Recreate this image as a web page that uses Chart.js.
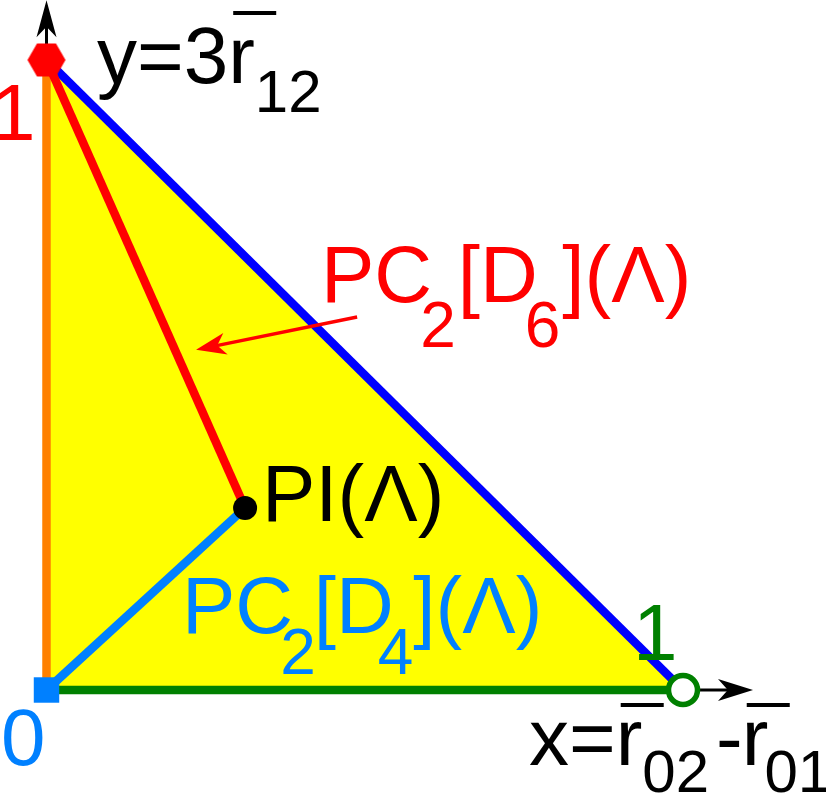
<!DOCTYPE html>
<html>
<head>
<meta charset="utf-8">
<script src="https://cdn.jsdelivr.net/npm/chart.js@4.4.1/dist/chart.umd.min.js"></script>
<style>
  html, body { margin: 0; padding: 0; background: #fff; }
  #wrap { width: 826px; height: 796px; }
</style>
</head>
<body>
<div id="wrap"><canvas id="c" width="826" height="796"></canvas></div>
<script>
// triangle corners: origin, x = 1, y = 1
const cornerX = [0, 1, 0];
const cornerY = [0, 0, 1];
// PI(Λ) point
const piX = 0.312;
const piY = 0.289;
// axis arrow tips, a bit past 1
const axisTipX = 1.11;
const axisTipY = 1.095;
// pointer from the PC2[D6] label to the red line
const pointerX = [0.488, 0.235];
const pointerY = [0.592, 0.540];
// corner tick labels: origin, y = 1, x = 1
const tickLabels = ["0", "1", "1"];

const FONT = '"Liberation Sans", Arial, sans-serif';

// red hexagon for the y = 1 corner
const hex = document.createElement("canvas");
hex.width = 42; hex.height = 38;
(() => {
  const h = hex.getContext("2d");
  h.fillStyle = "#ff0000";
  h.beginPath();
  for (let i = 0; i < 6; i++) {
    const a = Math.PI / 3 * i;
    h.lineTo(21 + 19 * Math.cos(a), 19 + 19 * Math.sin(a));
  }
  h.closePath();
  h.fill();
})();

function arrow(ctx, x1, y1, x2, y2, color, lw, len, half) {
  const a = Math.atan2(y2 - y1, x2 - x1);
  ctx.save();
  ctx.strokeStyle = color;
  ctx.fillStyle = color;
  ctx.lineWidth = lw;
  ctx.beginPath();
  ctx.moveTo(x1, y1);
  ctx.lineTo(x2 - Math.cos(a) * len * 0.7, y2 - Math.sin(a) * len * 0.7);
  ctx.stroke();
  ctx.translate(x2, y2);
  ctx.rotate(a);
  ctx.beginPath();
  ctx.moveTo(0, 0);
  ctx.lineTo(-len, -half);
  ctx.lineTo(-len * 0.72, 0);
  ctx.lineTo(-len, half);
  ctx.closePath();
  ctx.fill();
  ctx.restore();
}

// text with subscripts and overbars
function rich(ctx, x, y, parts, color, size, subSize, subDy, barRise) {
  ctx.save();
  ctx.fillStyle = color;
  ctx.textBaseline = "alphabetic";
  ctx.textAlign = "left";
  let cx = x;
  parts.forEach((p) => {
    cx += p.dx || 0;
    ctx.font = (p.sub ? subSize : size) + "px " + FONT;
    ctx.fillText(p.t, cx, y + (p.sub ? subDy : 0));
    if (p.bar) ctx.fillRect(cx + 5, y - barRise - 2, 43, 4);
    cx += ctx.measureText(p.t).width;
  });
  ctx.restore();
}

const decor = {
  id: "decor",
  beforeDatasetsDraw(chart) {
    const { ctx, scales: { x, y } } = chart;
    const x0 = x.getPixelForValue(0), y0 = y.getPixelForValue(0);
    arrow(ctx, x0, y.getPixelForValue(1) - 14, x0, y.getPixelForValue(axisTipY), "#000", 3, 37, 10);
    arrow(ctx, x.getPixelForValue(1) + 14, y0, x.getPixelForValue(axisTipX), y0, "#000", 3, 35, 11);
  },
  afterDatasetsDraw(chart) {
    const { ctx, scales: { x, y } } = chart;
    arrow(ctx, x.getPixelForValue(pointerX[0]), y.getPixelForValue(pointerY[0]),
      x.getPixelForValue(pointerX[1]), y.getPixelForValue(pointerY[1]), "#ff0000", 3.5, 30, 11);

    ctx.save();
    ctx.font = "80px " + FONT;
    ctx.fillStyle = "#0080ff";
    ctx.fillText(tickLabels[0], 1, 765);
    ctx.fillStyle = "#ff0000";
    ctx.fillText(tickLabels[1], -9, 140);
    ctx.fillStyle = "#008000";
    ctx.fillText(tickLabels[2], 633, 660);
    ctx.fillStyle = "#000";
    ctx.fillText("PI(Λ)", 262, 521);
    ctx.restore();

    rich(ctx, 321, 302, [
      { t: "PC" }, { t: "2", sub: true, dx: -12 }, { t: "[D", dx: 2 },
      { t: "6", sub: true, dx: -13 }, { t: "](Λ)", dx: 2 }
    ], "#ff0000", 80, 64, 45, 0);

    rich(ctx, 182, 633, [
      { t: "PC" }, { t: "2", sub: true, dx: -13 }, { t: "[D", dx: -2 },
      { t: "4", sub: true, dx: -16 }, { t: "](Λ)", dx: 0 }
    ], "#0080ff", 80, 64, 41, 0);

    rich(ctx, 97, 83, [
      { t: "y=3" }, { t: "r", bar: true }, { t: "12", sub: true }
    ], "#000", 80, 60, 29, 70);

    rich(ctx, 529, 765, [
      { t: "x=" }, { t: "r", bar: true }, { t: "02", sub: true },
      { t: "-", dx: 7 }, { t: "r", bar: true, dx: -1 }, { t: "01", sub: true, dx: -4 }
    ], "#000", 80, 60, 27, 60);
  }
};

const seg = (i, j) => [{ x: cornerX[i], y: cornerY[i] }, { x: cornerX[j], y: cornerY[j] }];
const lineDs = (data, color, order) => ({
  data, showLine: true, borderColor: color, borderWidth: 8.5,
  pointRadius: 0, fill: false, clip: false, order
});

new Chart(document.getElementById("c"), {
  type: "scatter",
  data: {
    datasets: [
      {
        data: [
          { x: cornerX[2], y: cornerY[2] },
          { x: cornerX[0], y: cornerY[0] },
          { x: cornerX[1], y: cornerY[1] },
          { x: piX, y: piY }
        ],
        pointStyle: [hex, "rect", "circle", "circle"],
        pointRadius: [19, 18, 14.5, 12],
        backgroundColor: ["#ff0000", "#0080ff", "#ffffff", "#000000"],
        borderColor: ["#ff0000", "#0080ff", "#008000", "#000000"],
        borderWidth: [0, 0, 5.5, 0],
        clip: false,
        order: 0
      },
      lineDs([{ x: cornerX[0], y: cornerY[0] }, { x: piX, y: piY }], "#0080ff", 1),
      lineDs([{ x: cornerX[2], y: cornerY[2] }, { x: piX, y: piY }], "#ff0000", 2),
      lineDs(seg(1, 2), "#0000ff", 3),
      lineDs(seg(0, 1), "#008000", 4),
      lineDs(seg(0, 2), "#ff8000", 5),
      {
        data: [...seg(0, 1), { x: cornerX[2], y: cornerY[2] }],
        showLine: true, borderWidth: 0, pointRadius: 0,
        backgroundColor: "#ffff00", fill: "shape", order: 6
      }
    ]
  },
  options: {
    responsive: false,
    animation: false,
    layout: { padding: { left: 46.5, right: 143, top: 60, bottom: 106 } },
    scales: {
      x: { type: "linear", min: 0, max: 1, display: false },
      y: { type: "linear", min: 0, max: 1, display: false }
    },
    plugins: { legend: { display: false }, tooltip: { enabled: false } },
    elements: { line: { tension: 0 } }
  },
  plugins: [decor]
});
</script>
</body>
</html>
